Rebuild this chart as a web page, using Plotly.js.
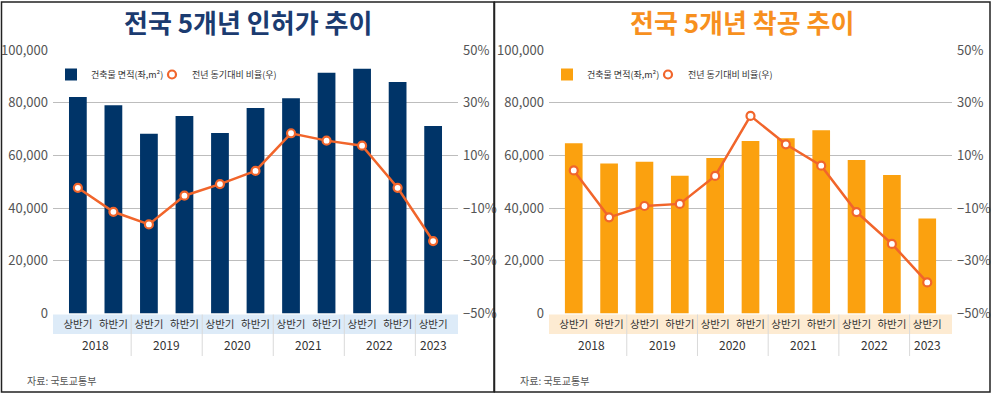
<!DOCTYPE html>
<html>
<head>
<meta charset="utf-8">
<script src="https://cdn.plot.ly/plotly-3.0.1.min.js"></script>
<style>html,body{margin:0;padding:0;background:#fff;}#chart{width:994px;height:395px;}</style>
</head>
<body>
<div id="chart"></div>
<script>
// ---- data ----
const periods = ['상반기','하반기','상반기','하반기','상반기','하반기','상반기','하반기','상반기','하반기','상반기'];
const years = ['2018','2018','2019','2019','2020','2020','2021','2021','2022','2022','2023'];
const permitArea = [82200, 79000, 68200, 75000, 68500, 78000, 81700, 91400, 92900, 87900, 71200];
const permitRate = [-2.3, -11.4, -16.2, -5.3, -0.9, 4.1, 18.4, 15.6, 13.7, -2.3, -22.5];
const startArea = [64600, 56900, 57600, 52300, 59000, 65500, 66500, 69500, 58300, 52600, 36100];
const startRate = [4.3, -13.5, -9.2, -8.4, 2.2, 25.0, 14.2, 6.1, -11.5, -23.6, -38.2];
const barName = '건축물 면적(좌,m²)';
const lineName = '전년 동기대비 비율(우)';
const titles = ['전국 5개년 인허가 추이', '전국 5개년 착공 추이'];
const source = '자료: 국토교통부';

const W = 994, H = 395;
const FONT = '"Noto Sans CJK KR", "Noto Sans", sans-serif';
const idx = periods.map((_, i) => i);
const lineColor = '#F1652B';
const barColors = ['#003468', '#FBA10F'];
const bandColors = ['#DDEBF8', '#FDEBD2'];
const titleColors = ['#1B3B70', '#F7901E'];

const px = v => v / W;
const py = v => 1 - v / H;

// year groups
const groups = [];
years.forEach((y, i) => {
  const g = groups[groups.length - 1];
  if (g && g.year === y) g.end = i; else groups.push({year: y, start: i, end: i});
});

const panels = [
  {x0: 53, x1: 458, xa: 'x', ya: 'y', ya2: 'y2', area: permitArea, rate: permitRate, legA: 'legend', legB: 'legend3', box: [1.5, 494]},
  {x0: 549, x1: 952, xa: 'x2', ya: 'y3', ya2: 'y4', area: startArea, rate: startRate, legA: 'legend2', legB: 'legend4', box: [494.5, 990]}
];

const plotTop = 50, plotBot = 313.5;
const traces = [];
const shapes = [];
const annotations = [];
const layout = {
  width: W, height: H,
  margin: {l: 0, r: 0, t: 0, b: 0},
  paper_bgcolor: '#fff', plot_bgcolor: 'rgba(0,0,0,0)',
  font: {family: FONT, color: '#444', size: 12},
  showlegend: true,
  bargap: 0.5
};

panels.forEach((p, k) => {
  const xKey = k === 0 ? 'xaxis' : 'xaxis2';
  const yKey = k === 0 ? 'yaxis' : 'yaxis3';
  const y2Key = k === 0 ? 'yaxis2' : 'yaxis4';
  traces.push({
    type: 'bar', x: idx, y: p.area, name: barName,
    marker: {color: barColors[k]}, width: 0.5,
    xaxis: p.xa, yaxis: p.ya, legend: p.legA
  });
  traces.push({
    type: 'scatter', mode: 'lines', x: idx, y: p.rate, name: lineName, showlegend: false,
    line: {color: lineColor, width: 2.5},
    xaxis: p.xa, yaxis: p.ya2
  });
  traces.push({
    type: 'scatter', mode: 'markers', x: idx, y: p.rate, name: lineName,
    marker: {size: 8, color: '#fff', line: {color: lineColor, width: 2.2}},
    xaxis: p.xa, yaxis: p.ya2, legend: p.legB
  });
  layout[xKey] = {
    domain: [px(p.x0), px(p.x1)], anchor: p.ya,
    range: [-0.7, idx.length - 0.3], tickvals: idx, ticktext: periods,
    showgrid: false, zeroline: false, showline: false, ticks: '',
    tickfont: {size: 10.5, color: '#333', family: FONT}, ticklabelstandoff: 3, fixedrange: true
  };
  layout[yKey] = {
    domain: [py(plotBot), py(plotTop)], anchor: p.xa,
    range: [0, 100000], dtick: 20000, tick0: 0, tickformat: ',d',
    showgrid: true, gridcolor: '#BDBDBD', gridwidth: 1, zeroline: false, showline: false,
    tickfont: {size: 13, color: '#555', family: FONT}, ticklabelstandoff: 4
  };
  layout[y2Key] = {
    domain: [py(plotBot), py(plotTop)], anchor: p.xa, overlaying: p.ya, side: 'right',
    range: [-50, 50], dtick: 20, tick0: -50, ticksuffix: '%',
    showgrid: false, zeroline: false, showline: false,
    tickfont: {size: 13, color: '#555', family: FONT}, ticklabelstandoff: 4
  };
  const legCommon = {
    y: py(60), xanchor: 'left', yanchor: 'top',
    orientation: 'h', bgcolor: 'rgba(0,0,0,0)', itemwidth: 30,
    font: {size: 9, color: '#333', family: FONT}
  };
  layout[p.legA] = Object.assign({x: px(p.x0 - 2)}, legCommon);
  layout[p.legB] = Object.assign({x: px(p.x0 + 99)}, legCommon);
  // category band
  shapes.push({type: 'rect', xref: 'paper', yref: 'paper', x0: px(p.x0), x1: px(p.x1),
    y0: py(334), y1: py(314.5), fillcolor: bandColors[k], line: {width: 0}, layer: 'below'});
  // group separators & year labels
  groups.forEach((g, gi) => {
    if (gi > 0) {
      shapes.push({type: 'line', xref: p.xa, yref: 'paper', x0: g.start - 0.5, x1: g.start - 0.5,
        y0: py(356), y1: py(314.5), line: {color: '#D9D9D9', width: 1}});
    }
    annotations.push({xref: p.xa, yref: 'paper', x: (g.start + g.end) / 2, y: py(344.5),
      xanchor: 'center', yanchor: 'middle',
      text: g.year, showarrow: false, font: {size: 12, color: '#333', family: FONT}});
  });
  // title
  annotations.push({xref: 'paper', yref: 'paper', x: px((p.box[0] + p.box[1]) / 2), y: py(22),
    text: titles[k], showarrow: false, xanchor: 'center', yanchor: 'middle',
    font: {size: 26, color: titleColors[k], family: FONT, weight: 'bold'}});
  // source
  annotations.push({xref: 'paper', yref: 'paper', x: px(p.box[0] + 23), y: py(380),
    xanchor: 'left', yanchor: 'middle', text: source, showarrow: false,
    font: {size: 10, color: '#555', family: FONT}});
  // frame
  shapes.push({type: 'rect', xref: 'paper', yref: 'paper', x0: px(p.box[0]), x1: px(p.box[1]),
    y0: py(392), y1: py(2), line: {color: '#222', width: 1.5}, fillcolor: 'rgba(0,0,0,0)'});
});

layout.shapes = shapes;
layout.annotations = annotations;

Plotly.newPlot('chart', traces, layout, {displayModeBar: false, staticPlot: true});
</script>
</body>
</html>
